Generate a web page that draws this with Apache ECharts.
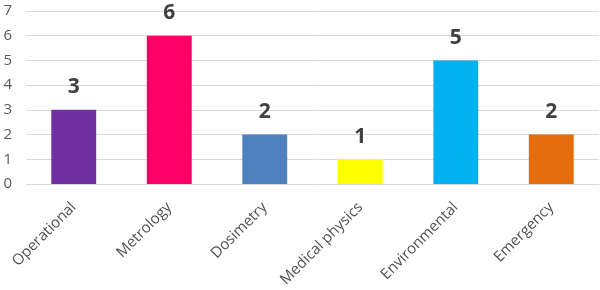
<!DOCTYPE html>
<html>
<head>
<meta charset="utf-8">
<script src="https://cdn.jsdelivr.net/npm/echarts@6/dist/echarts.min.js"></script>
<style>
  html, body { margin: 0; padding: 0; background: #fff; }
  #chart { width: 600px; height: 290px; }
</style>
</head>
<body>
<div id="chart"></div>
<script>
const categories = ["Operational", "Metrology", "Dosimetry", "Medical physics", "Environmental", "Emergency"];
const counts = [3, 6, 2, 1, 5, 2];
const barColors = ["#7030A0", "#FF0066", "#4F81BD", "#FFFF00", "#00B0F0", "#E46C0A"];

const chart = echarts.init(document.getElementById("chart"));
chart.setOption({
  animation: false,
  grid: { left: 26, right: 1, top: 11, bottom: 106 },
  xAxis: {
    type: "category",
    data: categories,
    axisLine: { lineStyle: { color: "#d9d9d9" } },
    axisTick: { length: 5, lineStyle: { color: "#d9d9d9" } },
    axisLabel: {
      rotate: 45,
      interval: 0,
      margin: 21,
      color: "#505050",
      fontSize: 15,
      fontFamily: "Open Sans"
    }
  },
  yAxis: {
    type: "value",
    min: 0,
    max: 7,
    interval: 1,
    axisLine: { show: false },
    axisTick: { show: false },
    splitLine: { lineStyle: { color: "#d9d9d9" } },
    axisLabel: {
      margin: 14,
      color: "#595959",
      fontSize: 15,
      fontFamily: "Open Sans"
    }
  },
  series: [
    {
      type: "bar",
      data: counts.map((v, i) => ({ value: v, itemStyle: { color: barColors[i] } })),
      barWidth: "47%",
      label: {
        show: true,
        position: "top",
        distance: 12,
        color: "#404040",
        fontSize: 21,
        fontWeight: "bold",
        fontFamily: "Open Sans"
      }
    }
  ]
});
</script>
</body>
</html>
